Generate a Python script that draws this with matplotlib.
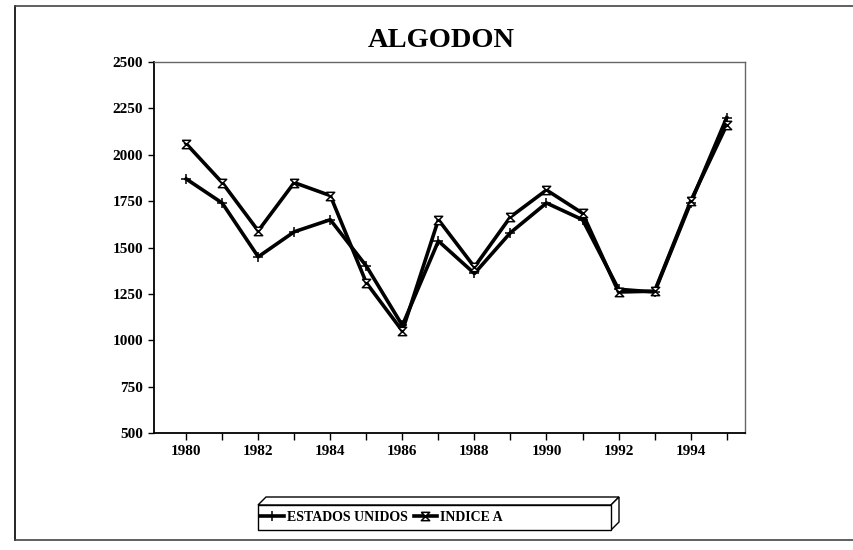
import matplotlib.pyplot as plt
from matplotlib.patches import Polygon
from matplotlib.lines import Line2D

years = list(range(1980, 1996))
estados_unidos = [1870, 1740, 1450, 1585, 1650, 1400, 1080, 1535, 1360, 1580,
                  1740, 1650, 1275, 1260, 1740, 2200]
indice_a = [2060, 1850, 1590, 1850, 1780, 1310, 1050, 1650, 1395, 1665,
            1810, 1685, 1260, 1265, 1750, 2160]
yticks = [500, 750, 1000, 1250, 1500, 1750, 2000, 2250, 2500]
xlabels = [1980, 1982, 1984, 1986, 1988, 1990, 1992, 1994]

plt.rcParams['font.family'] = ['Liberation Serif', 'DejaVu Serif']
plt.rcParams['font.weight'] = 'bold'

# hourglass marker
hourglass = [(-1, 1), (1, 1), (-1, -1), (1, -1), (-1, 1)]

fig = plt.figure(figsize=(8.54, 5.5), dpi=100)
ax = fig.add_axes([0.180, 0.2127, 0.692, 0.6745])

ax.plot(years, estados_unidos, color='black', lw=2.6, marker='+',
        markersize=7, markeredgewidth=1.1, label='ESTADOS UNIDOS')
ax.plot(years, indice_a, color='black', lw=2.6, marker=hourglass,
        markersize=6, markeredgewidth=1.1, markerfacecolor='white',
        label='INDICE A')

ax.set_xlim(1979.1, 1995.5)
ax.set_ylim(500, 2500)
ax.set_yticks(yticks)
ax.set_yticklabels([str(v) for v in yticks], fontsize=11, fontweight='bold')
ax.set_xticks(years, minor=True)
ax.set_xticks(xlabels)
ax.set_xticklabels([str(v) for v in xlabels], fontsize=11, fontweight='bold')
ax.tick_params(axis='x', which='both', direction='out', length=5, width=1)
ax.tick_params(axis='y', direction='out', length=4, width=1)
for s in ['top', 'right']:
    ax.spines[s].set_color('#666666')
    ax.spines[s].set_linewidth(1)
for s in ['left', 'bottom']:
    ax.spines[s].set_linewidth(1.3)

fig.text(0.517, 0.927, 'ALGODON', ha='center', va='center',
         fontsize=20.5, fontweight='bold')

# outer frame
fig.add_artist(Line2D([0.018, 0.018], [0.018, 0.99], color='black', lw=1.2,
                      transform=fig.transFigure))
fig.add_artist(Line2D([0.018, 1.0], [0.99, 0.99], color='#444444', lw=1.2,
                      transform=fig.transFigure))
fig.add_artist(Line2D([0.018, 1.0], [0.018, 0.018], color='#444444', lw=1.2,
                      transform=fig.transFigure))

# legend box with 3d look
x0, x1, y0, y1 = 258 / 854, 611 / 854, (550 - 530) / 550, (550 - 505) / 550
dx, dy = 8 / 854, 8 / 550
fig.add_artist(Polygon([(x0, y1), (x0 + dx, y1 + dy), (x1 + dx, y1 + dy), (x1, y1)],
                       closed=True, fc='white', ec='black', lw=1,
                       transform=fig.transFigure))
fig.add_artist(Polygon([(x1, y0), (x1 + dx, y0 + dy), (x1 + dx, y1 + dy), (x1, y1)],
                       closed=True, fc='white', ec='black', lw=1,
                       transform=fig.transFigure))
fig.add_artist(Polygon([(x0, y0), (x1, y0), (x1, y1), (x0, y1)],
                       closed=True, fc='white', ec='black', lw=1,
                       transform=fig.transFigure))
leg = fig.legend(loc='center left', bbox_to_anchor=(x0 - 0.004, (y0 + y1) / 2),
                 ncol=2, frameon=False, handlelength=1.7,
                 handletextpad=0.2, columnspacing=0.45, borderaxespad=0,
                 prop={'weight': 'bold', 'size': 10})

fig.savefig('out.png', dpi=100, facecolor='white')
